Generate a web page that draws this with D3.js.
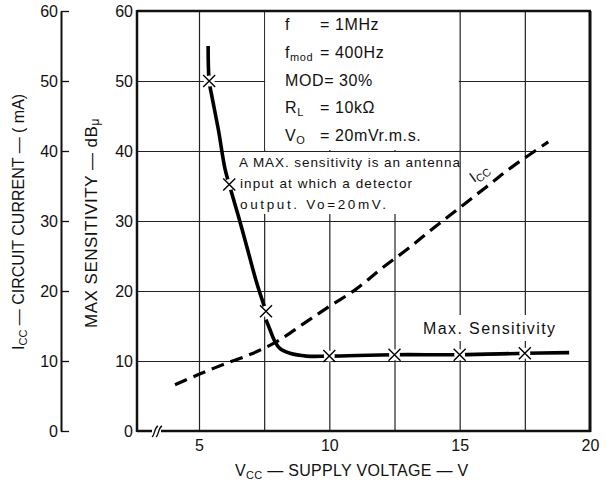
<!DOCTYPE html>
<html>
<head>
<meta charset="utf-8">
<script src="https://cdn.jsdelivr.net/npm/d3@7"></script>
<style>
  body { margin: 0; background: #fff; }
  svg { font-family: "Liberation Sans", Arial, sans-serif; }
  .grid line { stroke: #222; stroke-width: 1.2; }
  .grid path { display: none; }
  .lbl path { display: none; }
  .lbl text { font-size: 16px; fill: #111; }
</style>
</head>
<body>
<svg id="chart"></svg>
<script>
// ---- data ----
// max sensitivity (dBu) vs supply voltage, steep part and flat part
const sensV1 = [5.35, 5.39, 5.49, 5.74, 6.0, 6.16, 6.51, 6.83, 7.21, 7.57];
const sensS1 = [55, 50, 47.9, 43.1, 37.4, 35.2, 30.7, 26.4, 21.2, 17.1];
const sensV2 = [7.57, 7.72, 7.91, 8.1, 8.49, 9.13, 10.0, 12.5, 15, 17.5, 19.2];
const sensS2 = [15.9, 14.5, 12.8, 11.8, 11.1, 10.7, 10.7, 10.9, 10.9, 11.1, 11.2];
// measured points (x marks)
const markV = [5.39, 6.16, 7.57, 10, 12.5, 15, 17.5];
const markS = [50, 35.2, 17.1, 10.7, 10.9, 10.9, 11.1];
// circuit current (mA)
const iccV = [4.08, 5, 6, 7, 8, 9, 10, 11, 12, 13, 14, 15, 16, 17, 18.4];
const iccI = [6.6, 8.1, 9.6, 11.0, 12.8, 15.3, 17.8, 20.2, 23.2, 26.0, 29.0, 31.9, 34.8, 37.7, 41.3];
// ticks
const xGrid = [5, 7.5, 10, 12.5, 15, 17.5];
const xTicks = [5, 10, 15, 20];
const yTicks = [0, 10, 20, 30, 40, 50, 60];
const yGrid = [10, 20, 30, 40, 50];

const width = 607, height = 486;
const pLeft = 137, pRight = 590, pTop = 11, pBottom = 431;

const svg = d3.select('#chart').attr('width', width).attr('height', height);

const x = d3.scaleLinear().domain([5, 20]).range([199, pRight]);
const y = d3.scaleLinear().domain([0, 60]).range([pBottom, pTop]);
const yI = d3.scaleLinear().domain([0, 60]).range([pBottom, pTop]);

// grid
svg.append('g').attr('class', 'grid')
  .attr('transform', `translate(0,${pBottom})`)
  .call(d3.axisBottom(x).tickValues(xGrid).tickSize(-(pBottom - pTop)).tickFormat(''));
svg.append('g').attr('class', 'grid')
  .attr('transform', `translate(${pLeft},0)`)
  .call(d3.axisLeft(y).tickValues(yGrid).tickSize(-(pRight - pLeft)).tickFormat(''));

// white areas behind text blocks
svg.append('rect').attr('x', x(7.5) + 1).attr('y', pTop + 1)
  .attr('width', x(15) - x(7.5) - 2).attr('height', y(40) - pTop - 2).attr('fill', '#fff');
svg.append('rect').attr('x', 237).attr('y', y(40) + 1)
  .attr('width', x(15) - 238).attr('height', 62).attr('fill', '#fff');
svg.append('rect').attr('x', 421).attr('y', 315)
  .attr('width', 136).attr('height', 26).attr('fill', '#fff');

// frame
const frame = svg.append('g').attr('stroke', '#111').attr('fill', 'none');
frame.append('line').attr('x1', pLeft).attr('x2', pLeft).attr('y1', pTop - 1).attr('y2', pBottom + 1).attr('stroke-width', 2.5);
frame.append('line').attr('x1', pLeft).attr('x2', pRight + 1).attr('y1', pTop).attr('y2', pTop).attr('stroke-width', 2.5);
frame.append('line').attr('x1', pRight).attr('x2', pRight).attr('y1', pTop).attr('y2', pBottom + 1).attr('stroke-width', 3);
frame.append('line').attr('x1', pLeft).attr('x2', pRight + 1).attr('y1', pBottom).attr('y2', pBottom).attr('stroke-width', 2.5);

// axis break on the x axis
svg.append('rect').attr('x', 152).attr('y', pBottom - 3).attr('width', 9).attr('height', 6).attr('fill', '#fff');
[152, 156].forEach(bx => {
  svg.append('path')
    .attr('d', `M${bx},${pBottom + 6} C${bx + 3},${pBottom + 4} ${bx + 2},${pBottom - 3} ${bx + 6},${pBottom - 5}`)
    .attr('fill', 'none').attr('stroke', '#111').attr('stroke-width', 1.4);
});

// tick labels
svg.append('g').attr('class', 'lbl')
  .attr('transform', `translate(${pLeft},0)`)
  .call(d3.axisLeft(y).tickValues(yTicks).tickSize(0).tickPadding(4));
svg.append('g').attr('class', 'lbl')
  .attr('transform', `translate(0,${pBottom})`)
  .call(d3.axisBottom(x).tickValues(xTicks).tickSize(0).tickPadding(9));

// Icc axis on the far left
const iccAxis = svg.append('g').attr('class', 'lbl')
  .attr('transform', 'translate(61,0)')
  .call(d3.axisLeft(yI).tickValues(yTicks).tickSizeInner(-8).tickSizeOuter(0).tickPadding(3));
iccAxis.select('.domain').style('display', 'inline').attr('stroke', '#111').attr('stroke-width', 2);
iccAxis.selectAll('.tick line').attr('stroke', '#111').attr('stroke-width', 1.3);

// curves
const line = d3.line().x(d => x(d[0])).y(d => y(d[1])).curve(d3.curveCatmullRom);
svg.append('path')
  .attr('d', line(iccV.map((v, i) => [v, iccI[i]])))
  .attr('fill', 'none').attr('stroke', '#000').attr('stroke-width', 3.2)
  .attr('stroke-dasharray', '13,7');
svg.append('path')
  .attr('d', line(sensV1.map((v, i) => [v, sensS1[i]])))
  .attr('fill', 'none').attr('stroke', '#000').attr('stroke-width', 3.6);
svg.append('path')
  .attr('d', line(sensV2.map((v, i) => [v, sensS2[i]])))
  .attr('fill', 'none').attr('stroke', '#000').attr('stroke-width', 3.6);

// x marks
const marks = svg.append('g');
markV.forEach((v, i) => {
  const cx = x(v), cy = y(markS[i]);
  marks.append('circle').attr('cx', cx).attr('cy', cy).attr('r', 5.5).attr('fill', '#fff');
  marks.append('path')
    .attr('d', `M${cx - 6},${cy - 6}L${cx + 6},${cy + 6}M${cx - 6},${cy + 6}L${cx + 6},${cy - 6}`)
    .attr('stroke', '#000').attr('stroke-width', 1.4);
});

// condition legend
const leg = svg.append('g').attr('font-size', 16).attr('fill', '#111').attr('letter-spacing', 0.6);
function row(yy, main, sub, rest) {
  const t = leg.append('text').attr('x', 285).attr('y', yy);
  t.append('tspan').text(main);
  if (sub) t.append('tspan').attr('font-size', 11).attr('dy', 3).text(sub);
  leg.append('text').attr('x', 320).attr('y', yy).text(rest);
}
row(30, 'f', '', '= 1MHz');
row(58, 'f', 'mod', '= 400Hz');
leg.append('text').attr('x', 285).attr('y', 86).text('MOD= 30%');
row(113, 'R', 'L', '= 10kΩ');
row(141, 'V', 'O', '= 20mVr.m.s.');

// note
const note = svg.append('g').attr('font-size', 13.5).attr('fill', '#111');
note.append('text').attr('x', 239).attr('y', 167).attr('textLength', 221).attr('lengthAdjust', 'spacing')
  .text('A MAX. sensitivity is an antenna');
note.append('text').attr('x', 240).attr('y', 188).attr('textLength', 172).attr('lengthAdjust', 'spacing')
  .text('input at which a detector');
note.append('text').attr('x', 240).attr('y', 209).attr('textLength', 146).attr('lengthAdjust', 'spacing')
  .text('output.  Vo=20mV.');

svg.append('text').attr('x', 423).attr('y', 334).attr('font-size', 16).attr('fill', '#111')
  .attr('textLength', 132).attr('lengthAdjust', 'spacing').text('Max. Sensitivity');

const iccLbl = svg.append('text').attr('transform', 'translate(474,183) rotate(-36)')
  .attr('font-size', 15).attr('fill', '#111');
iccLbl.append('tspan').text('I');
iccLbl.append('tspan').attr('font-size', 11).attr('dy', 3).text('CC');

// axis titles
const xt = svg.append('text').attr('x', 235).attr('y', 476).attr('font-size', 16).attr('fill', '#111')
  .attr('letter-spacing', 0.3);
xt.append('tspan').text('V');
xt.append('tspan').attr('font-size', 11).attr('dy', 3).text('CC');
xt.append('tspan').attr('dy', -3).text(' — SUPPLY  VOLTAGE — V');

const yt = svg.append('text').attr('transform', 'translate(97,328) rotate(-90)')
  .attr('font-size', 17).attr('fill', '#111').attr('letter-spacing', 0.5);
yt.append('tspan').text('MAX  SENSITIVITY — dB');
yt.append('tspan').attr('font-size', 12).attr('dy', 2).text('μ');

const it = svg.append('text').attr('transform', 'translate(24,350) rotate(-90)')
  .attr('font-size', 16).attr('fill', '#111').attr('letter-spacing', 0);
it.append('tspan').text('I');
it.append('tspan').attr('font-size', 11).attr('dy', 3).text('CC');
it.append('tspan').attr('dy', -3).text(' — CIRCUIT  CURRENT — ( mA)');
</script>
</body>
</html>
